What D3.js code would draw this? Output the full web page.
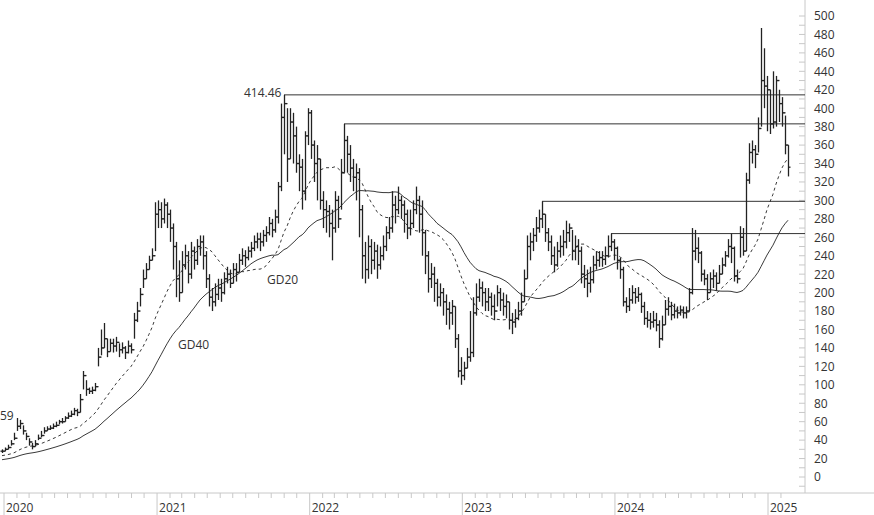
<!DOCTYPE html>
<html><head><meta charset="utf-8">
<script src="https://cdn.jsdelivr.net/npm/d3@7"></script>
<style>body{margin:0;background:#fff}svg{display:block;font-family:"Open Sans",sans-serif}</style>
</head><body><svg id="c" width="874" height="515"></svg>
<script>
const closes2019=[10,11,11,12,12,13,13,13,14,14,15,15,15,16,16,17,17,18,18,18,19,19,20,20,21,21,21,22,22,23,23,24,24,25,25,26,26,27,27];
const closes=[28,30,32,36,42,55,58,50,44,38,33,36,42,45,50,52,53,55,56,60,60,64,66,68,72,70,84,110,95,93,94,98,130,140,150,136,145,142,146,138,140,135,142,138,170,180,198,215,225,235,240,285,
290,280,295,285,270,250,215,200,230,240,220,245,235,250,255,240,215,195,190,198,205,200,215,220,210,225,222,235,240,238,245,248,255,258,255,262,265,275,268,282,315,390,405,345,385,370,340,336,310,370,
395,360,340,345,300,290,288,275,270,300,280,330,365,350,335,325,330,290,240,225,250,235,245,230,240,250,265,270,295,290,300,295,285,270,275,290,300,285,265,240,215,220,210,195,200,190,182,178,185,150,115,110,118,
130,135,178,195,205,200,190,195,185,180,200,192,185,190,170,168,172,180,190,215,250,255,262,270,280,285,265,255,240,230,245,250,255,265,270,245,250,245,220,215,210,214,230,235,238,236,240,250,255,248,
235,225,190,185,192,200,195,198,185,172,170,168,170,165,150,165,182,185,176,180,178,181,178,180,200,245,248,243,220,215,200,215,218,210,220,230,240,250,248,218,215,260,245,322,352,355,350,378,430,424,420,383,385,430,405,395,360,336];
const highs=[30,32,35,40,48,64,62,56,48,42,37,40,46,50,54,55,56,58,60,62,64,66,70,72,75,74,90,115,105,97,98,102,140,160,167,150,150,150,152,145,146,142,148,145,178,190,205,225,232,240,248,298,
300,298,302,298,290,275,255,235,245,252,245,255,250,258,262,262,245,220,205,210,215,215,222,228,225,232,232,242,248,246,250,255,262,265,265,268,272,282,280,290,320,405,414.46,400,400,395,380,350,345,375,
400,398,365,360,345,310,300,295,290,310,305,345,383,370,360,345,340,335,295,255,262,258,255,252,250,262,272,282,310,305,315,305,300,290,290,300,315,305,300,268,245,232,228,215,210,205,198,190,192,185,155,130,125,
140,180,195,210,215,212,205,205,200,198,208,205,200,198,190,178,182,190,200,225,262,265,270,282,290,299,285,270,262,250,255,262,268,278,275,268,262,258,250,230,225,228,240,245,245,245,250,262,264,258,
250,238,228,195,205,208,205,206,200,190,180,178,180,178,170,175,192,195,190,188,185,186,185,185,205,270,268,260,245,225,220,222,225,222,230,238,245,258,264,250,225,272,270,330,362,365,360,390,487,465,435,420,440,435,420,412,392,360];
const lows=[26,28,30,34,40,50,52,46,40,34,30,33,40,43,47,50,51,52,54,57,58,60,63,65,67,66,70,95,88,90,90,93,120,132,140,130,136,135,136,130,134,128,134,134,150,168,185,205,215,225,235,245,
270,270,275,270,255,225,195,190,200,225,210,215,225,230,240,225,205,185,180,185,192,190,198,210,205,210,212,222,230,228,235,238,245,248,245,250,255,262,260,265,275,310,350,320,345,340,330,310,290,300,
360,345,320,300,290,270,265,260,235,265,270,290,330,330,320,310,300,260,215,210,215,220,225,215,225,235,245,258,265,275,285,280,265,258,262,270,285,265,240,220,200,205,190,185,185,175,165,160,165,140,108,100,105,
118,125,130,175,190,185,180,180,175,170,185,180,175,172,160,155,162,170,175,190,215,235,245,255,265,270,255,245,230,222,228,238,240,248,255,235,235,230,210,205,195,200,210,225,228,228,230,238,245,235,
225,215,185,178,180,188,188,190,178,165,162,160,162,158,140,148,165,175,170,172,172,175,172,172,180,198,235,232,212,208,192,200,205,202,210,220,228,238,232,212,210,238,240,245,318,340,335,352,380,400,375,372,378,380,385,380,350,326];
const levels=[414.46,383,299,264];
const levelStart=[94,114,180,203];
const yTicks=d3.range(0,501,20);
const years=[2020,2021,2022,2023,2024,2025];

const svg=d3.select("#c");
const xt=d3.scaleTime().domain([new Date(2020,0,1),new Date(2025,0,1)]).range([4,768]);
const xi=d3.scaleLinear().domain([0,closes.length-1]).range([2,788]);
const y=d3.scaleLinear().domain([0,500]).range([477,16]);
const all=closes2019.concat(closes), off=closes2019.length;
const data=closes.map((c,i)=>({i,c,h:highs[i],l:lows[i],o:i?closes[i-1]:c}));
function sma(n){return data.map(p=>{const k=p.i+off;return {i:p.i,v:d3.mean(all.slice(Math.max(0,k-n+1),k+1))};});}

const ax=svg.append("g").attr("transform","translate(805,0)");
ax.append("line").attr("y1",0).attr("y2",493).attr("stroke","#c8c8c8");
svg.append("line").attr("x1",0).attr("x2",874).attr("y1",493).attr("y2",493).attr("stroke","#c8c8c8");
const yg=ax.append("g").call(d3.axisRight(y).tickValues(yTicks).tickSize(0).tickPadding(9));yg.select(".domain").remove();
yg.selectAll("text").attr("fill","#333").attr("font-size",12).attr("font-family","Open Sans");
ax.selectAll(".mt").data(d3.range(-10,501,10)).join("line").attr("x1",-6).attr("x2",0).attr("y1",d=>y(d)).attr("y2",d=>y(d)).attr("stroke","#c8c8c8");
const months=d3.timeMonth.range(new Date(2019,11,1),new Date(2025,2,1)).filter(m=>xt(m)>=0&&xt(m)<805);
svg.selectAll(".xm").data(months).join("line").attr("x1",d=>xt(d)).attr("x2",d=>xt(d)).attr("y1",493).attr("y2",d=>d.getMonth()===0?515:498).attr("stroke","#c8c8c8");
svg.selectAll(".xl").data(years).join("text").attr("x",d=>xt(new Date(d,0,1))+2).attr("y",512).text(d=>d).attr("font-size",12).attr("fill","#333");

svg.selectAll(".lv").data(levels).join("line").attr("x1",(d,i)=>xi(levelStart[i])).attr("x2",805).attr("y1",d=>y(d)).attr("y2",d=>y(d)).attr("stroke","#333");
svg.selectAll(".lvv").data(levels).join("line").attr("x1",(d,i)=>xi(levelStart[i])).attr("x2",(d,i)=>xi(levelStart[i])).attr("y1",d=>y(d)).attr("y2",(d,i)=>y(highs[levelStart[i]])).attr("stroke","#333");

const line=d3.line().x(d=>xi(d.i)).y(d=>y(d.v));
svg.append("path").attr("d",line(sma(40))).attr("fill","none").attr("stroke","#222").attr("stroke-width",0.9);
svg.append("path").attr("d",line(sma(20))).attr("fill","none").attr("stroke","#222").attr("stroke-width",0.9).attr("stroke-dasharray","3,3");

const g=svg.append("g").attr("stroke","#222").attr("stroke-width",1.3);
data.forEach(p=>{const cx=Math.round(xi(p.i))+0.5;
g.append("line").attr("x1",cx).attr("x2",cx).attr("y1",y(p.h)).attr("y2",y(p.l));
g.append("line").attr("x1",cx-2).attr("x2",cx).attr("y1",y(p.o)).attr("y2",y(p.o));
g.append("line").attr("x1",cx).attr("x2",cx+2).attr("y1",y(p.c)).attr("y2",y(p.c));});

const lab=(tx,xx,yy)=>svg.append("text").attr("x",xx).attr("y",yy).text(tx).attr("font-size",12).attr("fill","#333");
lab("414.46",244,97);lab("GD20",267,284);lab("GD40",178,349);lab("59",0,420);
</script></body></html>
